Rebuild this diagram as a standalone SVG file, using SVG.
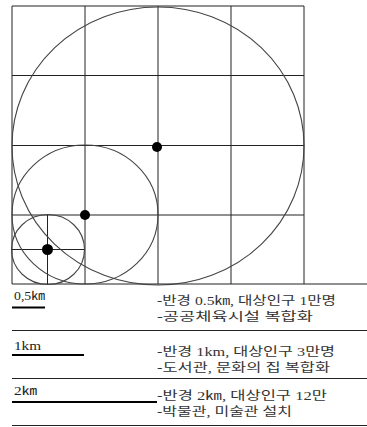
<svg xmlns="http://www.w3.org/2000/svg" width="367" height="427" viewBox="0 0 367 427">
<style>
.g{stroke:#222;stroke-width:1;fill:none}
.c{stroke:#444;stroke-width:1.1;fill:none}
.d{fill:#000}
.s{stroke:#222;stroke-width:1;fill:none}
.b{stroke:#000;stroke-width:1.8}
.t{font-family:"Liberation Serif","Noto Sans CJK KR",serif;font-size:12px;fill:#333}
.l{font-family:"Liberation Serif","Noto Sans CJK KR",serif;font-size:11.5px;fill:#222}
</style>
<rect width="367" height="427" fill="#fff"/>
<g id="grid">
<line class="g" x1="12" y1="6" x2="304" y2="6"/>
<line class="g" x1="12" y1="75.5" x2="304" y2="75.5"/>
<line class="g" x1="12" y1="145.5" x2="304" y2="145.5"/>
<line class="g" x1="12" y1="215" x2="304" y2="215"/>
<line class="g" x1="12" y1="284" x2="367" y2="284"/>
<line class="g" x1="12" y1="6" x2="12" y2="284"/>
<line class="g" x1="85" y1="6" x2="85" y2="284"/>
<line class="g" x1="158" y1="6" x2="158" y2="284"/>
<line class="g" x1="231" y1="6" x2="231" y2="284"/>
<line class="g" x1="304" y1="6" x2="304" y2="284"/>
<line class="g" x1="12" y1="249.5" x2="85" y2="249.5"/>
<line class="g" x1="47.5" y1="215" x2="47.5" y2="284"/>
</g>
<g id="circles">
<ellipse class="c" cx="158" cy="146" rx="146" ry="139"/>
<ellipse class="c" cx="85" cy="214.5" rx="73" ry="69.5"/>
<ellipse class="c" cx="48" cy="249.5" rx="36.5" ry="35"/>
<circle class="d" cx="157" cy="147" r="5"/>
<circle class="d" cx="85" cy="215" r="5"/>
<circle class="d" cx="47.5" cy="249.5" r="5.5"/>
</g>
<g id="table">
<line class="s" x1="12" y1="330.5" x2="367" y2="330.5"/>
<line class="s" x1="12" y1="378.5" x2="367" y2="378.5"/>
<line class="s" x1="12" y1="425.5" x2="367" y2="425.5"/>
<line class="b" x1="12" y1="307.5" x2="45" y2="307.5"/>
<line class="b" x1="12" y1="355" x2="84" y2="355"/>
<line class="b" x1="12" y1="402" x2="157" y2="402"/>
<text class="l" x="14" y="300" textLength="31" lengthAdjust="spacingAndGlyphs">0,5㎞</text>
<text class="l" x="14" y="350" textLength="27" lengthAdjust="spacingAndGlyphs">1km</text>
<text class="l" x="14" y="395" textLength="23" lengthAdjust="spacingAndGlyphs">2㎞</text>
<text class="t" x="157" y="305" textLength="179" lengthAdjust="spacingAndGlyphs">-반경 0.5㎞, 대상인구 1만명</text>
<text class="t" x="157" y="321" textLength="156" lengthAdjust="spacingAndGlyphs">-공공체육시설 복합화</text>
<text class="t" x="157" y="355.5" textLength="178" lengthAdjust="spacingAndGlyphs">-반경 1km, 대상인구 3만명</text>
<text class="t" x="157" y="372" textLength="173" lengthAdjust="spacingAndGlyphs">-도서관, 문화의 집 복합화</text>
<text class="t" x="157" y="400" textLength="170" lengthAdjust="spacingAndGlyphs">-반경 2㎞, 대상인구 12만</text>
<text class="t" x="157" y="416" textLength="135" lengthAdjust="spacingAndGlyphs">-박물관, 미술관 설치</text>
</g>
</svg>
